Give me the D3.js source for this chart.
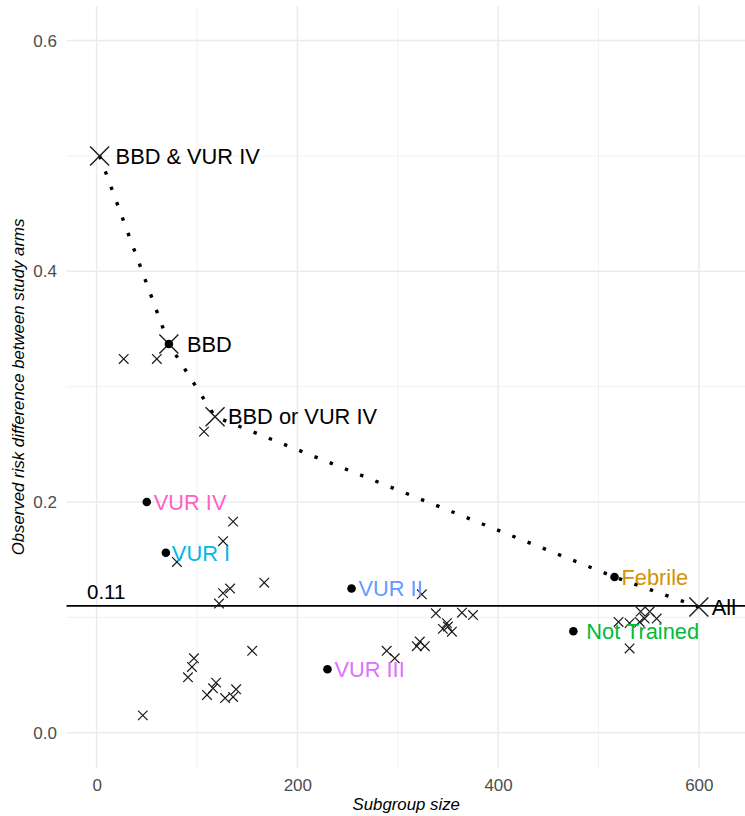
<!DOCTYPE html>
<html>
<head>
<meta charset="utf-8">
<script src="https://cdn.jsdelivr.net/npm/d3@7"></script>
<style>
    body { margin: 0; background: #fff; }
    text { font-family: 'Liberation Sans', Arial, sans-serif; }
    .tick text { fill: #4d4d4d; font-size: 17px; }
    .axistitle { font-style: italic; font-size: 16.8px; fill: #000; }
    .lbl { font-size: 21.8px; }
    .reflbl { font-size: 20.5px; }
</style>
</head>
<body>
<svg class="chart"></svg>
<script>
// Labelled subgroups
var subgroupNames = ['BBD & VUR IV', 'BBD', 'BBD or VUR IV', 'Febrile', 'All', 'Not Trained', 'VUR I', 'VUR II', 'VUR III', 'VUR IV'];
var subgroupSize = [3, 72, 118, 516, 600, 475, 69, 254, 230, 50];
var subgroupDiff = [0.5, 0.337, 0.274, 0.135, 0.109, 0.088, 0.156, 0.125, 0.055, 0.2];

// which labelled subgroups get a big cross, a dot, and lie on the dotted path
var bigCrossNames = ['BBD & VUR IV', 'BBD', 'BBD or VUR IV', 'All'];
var dotNames = ['BBD', 'Febrile', 'Not Trained', 'VUR I', 'VUR II', 'VUR III', 'VUR IV'];
var pathNames = ['BBD & VUR IV', 'BBD', 'BBD or VUR IV', 'Febrile', 'All'];

// All other subgroups (small crosses)
var otherSize = [27, 60, 107, 136, 126, 80, 167, 133, 126, 122, 97, 95, 91, 119, 116, 110, 128, 139, 136, 155, 46,
    324, 338, 364, 375, 349, 345, 354, 350, 322, 319, 327, 289, 297, 520, 531, 542, 551, 546, 541, 558, 531];
var otherDiff = [0.324, 0.324, 0.261, 0.183, 0.166, 0.148, 0.130, 0.125, 0.121, 0.112, 0.0645, 0.057, 0.048, 0.0434, 0.0385, 0.0327, 0.030, 0.0376, 0.031, 0.071, 0.015,
    0.120, 0.1035, 0.104, 0.102, 0.095, 0.090, 0.0876, 0.092, 0.079, 0.075, 0.075, 0.071, 0.0645, 0.096, 0.095, 0.105, 0.105, 0.099, 0.096, 0.099, 0.073];

var refValue = 0.11;
var xTicks = [0, 200, 400, 600];
var yTicks = [0.0, 0.2, 0.4, 0.6];

// label colours and nudges (px)
var labelColor = {
    'Febrile': '#D39200', 'Not Trained': '#00BA38', 'VUR I': '#00B9E3',
    'VUR II': '#619CFF', 'VUR III': '#DB72FB', 'VUR IV': '#FF61C3'
};
var labelNudge = { 'BBD & VUR IV': 16, 'BBD': 18, 'BBD or VUR IV': 13, 'All': 13, 'Not Trained': 13, 'VUR I': 6 };

var width = 745, height = 816;
var panel = { left: 66.5, right: 746, top: 6, bottom: 768 };

var svg = d3.select('.chart').attr('width', width).attr('height', height);

var x = d3.scaleLinear().domain([-30, 647]).range([panel.left, panel.right]);
var y = d3.scaleLinear().domain([-0.0306, 0.630]).range([panel.bottom, panel.top]);

// grid
var grid = svg.append('g');
var xMinor = [100, 300, 500], yMinor = [0.1, 0.3, 0.5];
grid.selectAll('.vminor').data(xMinor).enter().append('line')
    .attr('x1', d => x(d)).attr('x2', d => x(d)).attr('y1', panel.top).attr('y2', panel.bottom)
    .attr('stroke', '#f0f0f0').attr('stroke-width', 0.9);
grid.selectAll('.hminor').data(yMinor).enter().append('line')
    .attr('y1', d => y(d)).attr('y2', d => y(d)).attr('x1', panel.left).attr('x2', panel.right)
    .attr('stroke', '#f0f0f0').attr('stroke-width', 0.9);
grid.selectAll('.vmajor').data(xTicks).enter().append('line')
    .attr('x1', d => x(d)).attr('x2', d => x(d)).attr('y1', panel.top).attr('y2', panel.bottom)
    .attr('stroke', '#ebebeb').attr('stroke-width', 1.5);
grid.selectAll('.hmajor').data(yTicks).enter().append('line')
    .attr('y1', d => y(d)).attr('y2', d => y(d)).attr('x1', panel.left).attr('x2', panel.right)
    .attr('stroke', '#ebebeb').attr('stroke-width', 1.5);

// axes (labels only)
var xAxis = d3.axisBottom(x).tickValues(xTicks).tickSize(0).tickPadding(0).tickFormat(d3.format('d'));
var gx = svg.append('g').attr('class', 'x axis').attr('transform', 'translate(0,' + 779 + ')').call(xAxis);
gx.select('.domain').remove();
gx.selectAll('text').attr('dy', '0.71em');

var yAxis = d3.axisLeft(y).tickValues(yTicks).tickSize(0).tickPadding(0).tickFormat(d3.format('.1f'));
var gy = svg.append('g').attr('class', 'y axis').attr('transform', 'translate(57,0)').call(yAxis);
gy.select('.domain').remove();

// axis titles
svg.append('text').attr('class', 'axistitle')
    .attr('x', (panel.left + panel.right) / 2).attr('y', 810)
    .attr('text-anchor', 'middle').text('Subgroup size');
svg.append('text').attr('class', 'axistitle')
    .attr('transform', 'translate(24,' + (panel.top + panel.bottom) / 2 + ') rotate(-90)')
    .attr('text-anchor', 'middle').text('Observed risk difference between study arms');

// reference line
svg.append('line')
    .attr('x1', panel.left).attr('x2', panel.right)
    .attr('y1', y(refValue)).attr('y2', y(refValue))
    .attr('stroke', '#000').attr('stroke-width', 1.8);
svg.append('text').attr('class', 'reflbl')
    .attr('x', 87).attr('y', y(refValue) - 7)
    .attr('fill', '#000').text(d3.format('.2f')(refValue));

var subgroups = subgroupNames.map((n, i) => ({ name: n, size: subgroupSize[i], diff: subgroupDiff[i] }));
var others = otherSize.map((s, i) => ({ size: s, diff: otherDiff[i] }));
var byName = {};
subgroups.forEach(d => { byName[d.name] = d; });

// dotted path
var valueline = d3.line().x(d => x(d.size)).y(d => y(d.diff));
svg.append('path')
    .datum(pathNames.map(n => byName[n]))
    .attr('d', valueline)
    .attr('fill', 'none')
    .attr('stroke', '#000')
    .attr('stroke-width', 3.4)
    .attr('stroke-dasharray', '3.4 13');

function cross(sel, r, w) {
    sel.append('path')
        .attr('d', d => {
            var cx = x(d.size), cy = y(d.diff);
            return 'M' + (cx - r) + ',' + (cy - r) + 'L' + (cx + r) + ',' + (cy + r) +
                'M' + (cx - r) + ',' + (cy + r) + 'L' + (cx + r) + ',' + (cy - r);
        })
        .attr('stroke', '#1a1a1a')
        .attr('stroke-width', w)
        .attr('fill', 'none');
}

// small crosses
svg.append('g').selectAll('g').data(others).enter().append('g').call(cross, 4.8, 1.2);

// big crosses
svg.append('g').selectAll('g').data(bigCrossNames.map(n => byName[n])).enter().append('g').call(cross, 9.5, 1.4);

// dots
svg.append('g').selectAll('circle')
    .data(dotNames.map(n => byName[n]))
    .enter()
    .append('circle')
    .attr('cx', d => x(d.size))
    .attr('cy', d => y(d.diff))
    .attr('r', 4.3)
    .attr('fill', '#000');

// labels
svg.append('g').selectAll('text')
    .data(subgroups)
    .enter()
    .append('text')
    .attr('class', 'lbl')
    .attr('x', d => x(d.size) + (labelNudge[d.name] || 7))
    .attr('y', d => y(d.diff))
    .attr('dy', '0.36em')
    .attr('fill', d => labelColor[d.name] || '#000')
    .text(d => d.name);
</script>
</body>
</html>
